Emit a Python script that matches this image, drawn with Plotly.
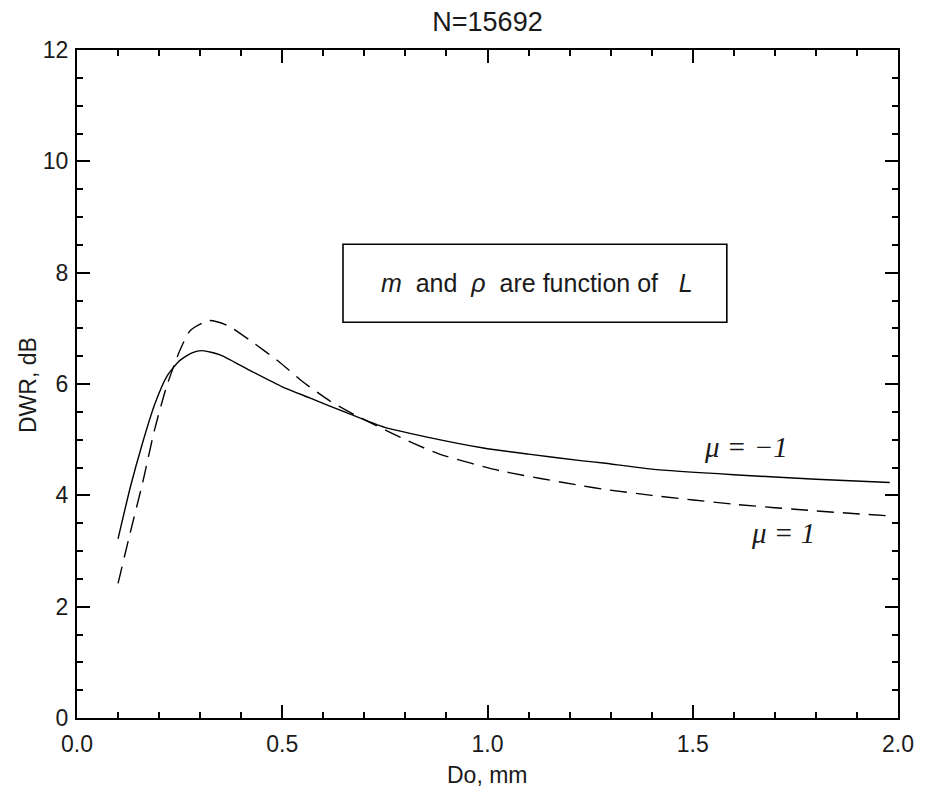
import plotly.graph_objects as go

# Data
x_mu_neg1 = [0.10, 0.13, 0.16, 0.19, 0.22, 0.25, 0.28, 0.305, 0.35, 0.417, 0.50, 0.567,
             0.658, 0.75, 0.85, 0.99, 1.10, 1.232, 1.282, 1.40, 1.60, 1.80, 1.98]
y_mu_neg1 = [3.22, 4.15, 4.95, 5.65, 6.15, 6.42, 6.56, 6.60, 6.52, 6.26, 5.95, 5.75,
             5.48, 5.22, 5.05, 4.85, 4.74, 4.62, 4.58, 4.47, 4.37, 4.29, 4.23]

x_mu_pos1 = [0.10, 0.13, 0.16, 0.189, 0.218, 0.251, 0.276, 0.322, 0.367, 0.426, 0.492,
             0.55, 0.617, 0.675, 0.708, 0.80, 0.883, 1.032, 1.232, 1.282, 1.40, 1.60, 1.80, 1.98]
y_mu_pos1 = [2.42, 3.34, 4.23, 5.18, 5.95, 6.61, 6.96, 7.14, 7.05, 6.76, 6.40,
             6.04, 5.69, 5.45, 5.33, 5.00, 4.74, 4.44, 4.17, 4.11, 4.00, 3.84, 3.72, 3.63]

x_ticks = [0.0, 0.5, 1.0, 1.5, 2.0]
x_tick_labels = ["0.0", "0.5", "1.0", "1.5", "2.0"]
y_ticks = [0, 2, 4, 6, 8, 10, 12]
y_tick_labels = ["0", "2", "4", "6", "8", "10", "12"]

title_text = "N=15692"
x_title = "Do, mm"
y_title = "DWR, dB"
box_text = ("<i>m</i>&nbsp;&nbsp;and&nbsp;&nbsp;<i>ρ</i>&nbsp;&nbsp;are function of"
            "&nbsp;&nbsp;&nbsp;<i>L</i>")
label_neg1 = "<i>μ = −1</i>"
label_pos1 = "<i>μ = 1</i>"

SANS = "Liberation Sans, Arial, sans-serif"
SERIF = "Liberation Serif, Times New Roman, serif"
INK = "#1a1a1a"

fig = go.Figure()
fig.add_trace(go.Scatter(x=x_mu_neg1, y=y_mu_neg1, mode="lines",
                         line=dict(color="black", width=1.4, shape="spline", smoothing=0.6),
                         showlegend=False, hoverinfo="skip"))
fig.add_trace(go.Scatter(x=x_mu_pos1, y=y_mu_pos1, mode="lines",
                         line=dict(color="black", width=1.4, dash="17px,9px", shape="spline", smoothing=0.6),
                         showlegend=False, hoverinfo="skip"))

axis_common = dict(
    showgrid=False, zeroline=False, showline=True, linecolor="black", linewidth=2,
    mirror="allticks", ticks="inside", tickcolor="black", tickwidth=1.5, ticklen=13,
    tickfont=dict(family=SANS, size=23, color=INK),
)

fig.update_xaxes(range=[0, 2], tickvals=x_ticks, ticktext=x_tick_labels,
                 minor=dict(dtick=0.1, ticks="inside", ticklen=6, tickcolor="black", tickwidth=1.5),
                 ticklabelstandoff=4, **axis_common)
fig.update_yaxes(range=[0, 12], tickvals=y_ticks, ticktext=y_tick_labels,
                 minor=dict(dtick=0.5, ticks="inside", ticklen=6, tickcolor="black", tickwidth=1.5),
                 ticklabelstandoff=2, **axis_common)

fig.add_shape(type="rect", xref="x", yref="y", x0=0.648, x1=1.583, y0=7.11, y1=8.51,
              line=dict(color="black", width=1.6), fillcolor="white", layer="above")

fig.add_annotation(x=1.12, y=7.81, xref="x", yref="y", text=box_text, showarrow=False,
                   font=dict(family=SANS, size=25, color=INK))
fig.add_annotation(x=1.63, y=4.86, xref="x", yref="y", text=label_neg1, showarrow=False,
                   font=dict(family=SERIF, size=29, color=INK))
fig.add_annotation(x=1.72, y=3.33, xref="x", yref="y", text=label_pos1, showarrow=False,
                   font=dict(family=SERIF, size=29, color=INK))

fig.add_annotation(x=0.5, y=-0.0853, xref="paper", yref="paper", text=x_title, showarrow=False,
                   xanchor="center", yanchor="middle", font=dict(family=SANS, size=23, color=INK))
fig.add_annotation(x=-0.0597, y=0.4985, xref="paper", yref="paper", text=y_title, showarrow=False,
                   textangle=-90, xanchor="center", yanchor="middle",
                   font=dict(family=SANS, size=23, color=INK))

fig.update_layout(
    width=917, height=781,
    margin=dict(l=69, r=27, t=42, b=71),
    paper_bgcolor="white", plot_bgcolor="white",
    title=dict(text=title_text, x=0.5, xref="paper", xanchor="center", y=1 - 14 / 781, yanchor="middle",
               yref="container", font=dict(family=SANS, size=27, color=INK)),
)

fig.write_html("out.html")
